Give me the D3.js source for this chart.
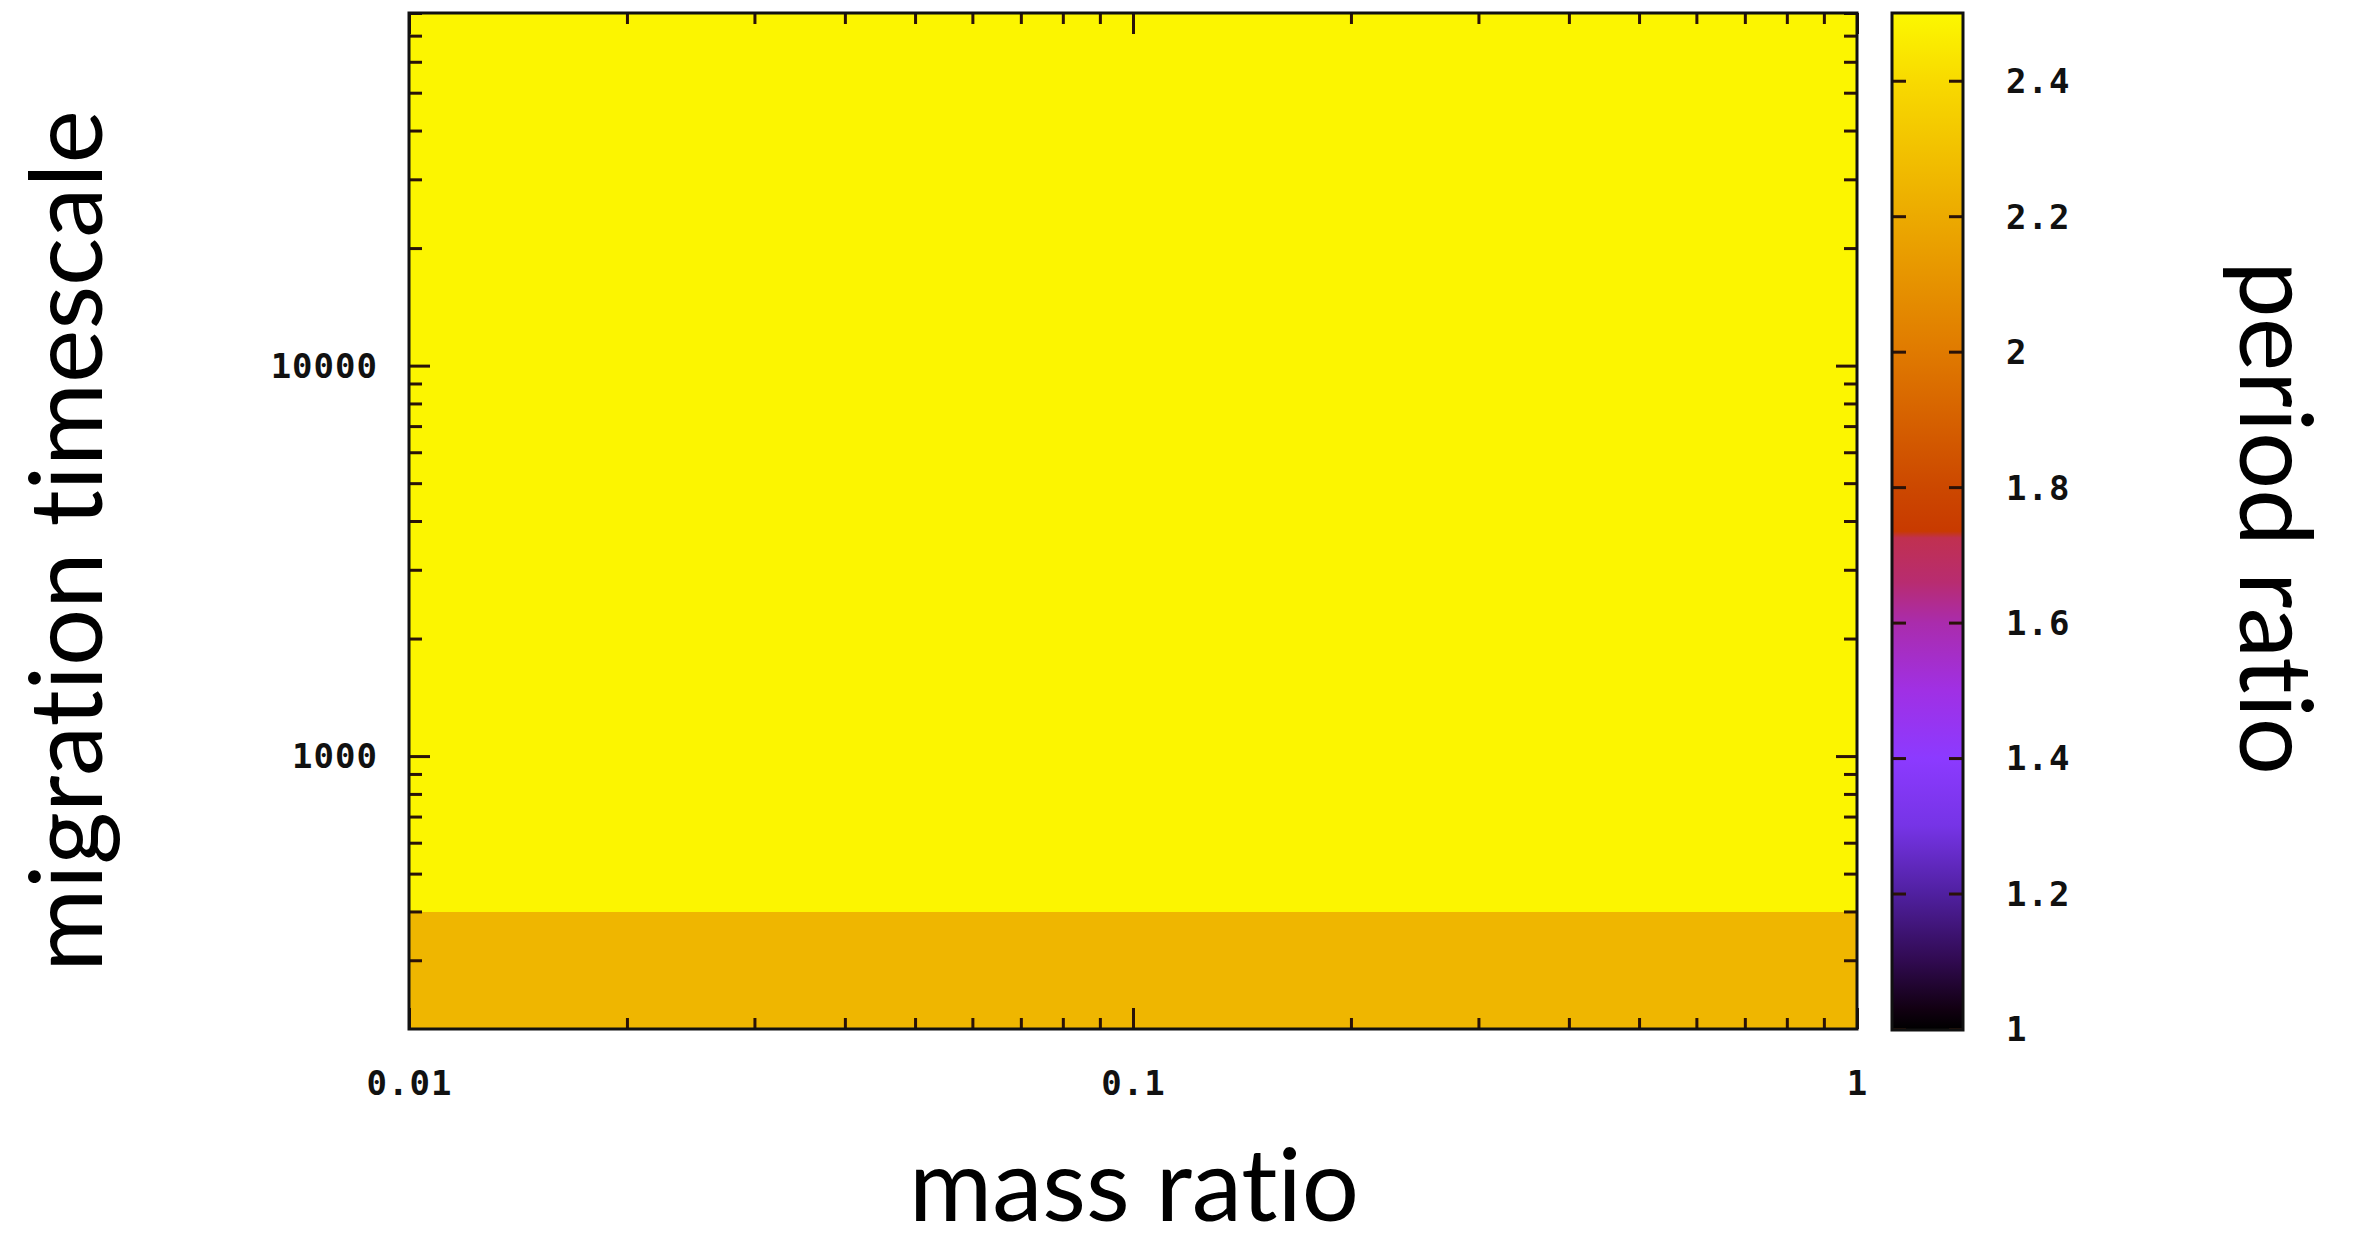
<!DOCTYPE html>
<html><head><meta charset="utf-8">
<script src="https://cdn.jsdelivr.net/npm/d3@7"></script>
<style>
html,body{margin:0;padding:0;background:#fff;}
svg{display:block;}
.tick text{font-family:"DejaVu Sans Mono",monospace;font-weight:bold;font-size:34px;fill:#111;letter-spacing:1px;}
.title{font-family:Lato,"Open Sans",sans-serif;font-size:101px;fill:#000;font-variant-ligatures:none;font-feature-settings:"liga" 0;}
</style></head>
<body>
<svg id="chart" width="2356" height="1249"></svg>
<script>
// ---- data ----
const massRatioEdges = [0.01, 0.1, 1];          // x cell edges
const timescaleEdges = [200, 400, 80000];       // y cell edges
const periodRatio = [                           // rows: bottom -> top
  [2.25, 2.25],
  [2.49, 2.49]
];
const xMajorTicks = [0.01, 0.1, 1];
const xTickLabels = ["0.01", "0.1", "1"];
const yMajorTicks = [1000, 10000];
const yTickLabels = ["1000", "10000"];
const cbTicks = [1, 1.2, 1.4, 1.6, 1.8, 2, 2.2, 2.4];
const cbTickLabels = ["1", "1.2", "1.4", "1.6", "1.8", "2", "2.2", "2.4"];
const paletteValues = [1.0, 1.03, 1.1, 1.2, 1.3, 1.4, 1.5, 1.6, 1.66, 1.725, 1.735, 1.8, 2.0, 2.2, 2.4, 2.5];
const paletteColors = ["#000000", "#120012", "#300a50", "#5020a0", "#7634e6", "#8c3aff", "#a030e4", "#aa2cac", "#b82c70", "#c03050", "#c83a00", "#cc4800", "#e07a00", "#ecaa00", "#f8da00", "#fcf800"];

// ---- layout ----
const svg = d3.select("#chart");
const L = 409, R = 1857, T = 13, B = 1029;
const CBL = 1892, CBR = 1963;

const x = d3.scaleLog().domain([0.01, 1]).range([L, R]);
const y = d3.scaleLog().domain([200, 80000]).range([B, T]);
const color = d3.scaleLinear().domain(paletteValues).range(paletteColors);
const cb = d3.scaleLinear().domain([1, 2.5]).range([B, T]);

svg.append("rect").attr("width", 2356).attr("height", 1249).attr("fill", "#fff");

// heatmap cells
const cells = [];
periodRatio.forEach((row, i) => row.forEach((v, j) => cells.push({
  x0: massRatioEdges[j], x1: massRatioEdges[j + 1],
  y0: timescaleEdges[i], y1: timescaleEdges[i + 1], v
})));
svg.append("g").attr("shape-rendering", "crispEdges")
  .selectAll("rect").data(cells).join("rect")
  .attr("x", d => x(d.x0)).attr("width", d => x(d.x1) - x(d.x0) + 0.5)
  .attr("y", d => y(d.y1)).attr("height", d => y(d.y0) - y(d.y1) + 0.5)
  .attr("fill", d => color(d.v));

// minor ticks
const xMinor = [];
[0.01, 0.1].forEach(b => { for (let k = 2; k <= 9; k++) xMinor.push(b * k); });
const yMinor = [];
[100, 1000, 10000].forEach(b => { for (let k = 2; k <= 9; k++) { const v = b * k; if (v > 200 && v <= 80000) yMinor.push(v); } });

const tickColor = "#2a1208";
function styleAxis(g) {
  g.select(".domain").remove();
  g.selectAll(".tick line").attr("stroke", tickColor).attr("stroke-width", 3);
}
// bottom
svg.append("g").attr("transform", `translate(0,${B})`)
  .call(d3.axisBottom(x).tickValues(xMinor).tickSize(-11).tickFormat(""))
  .call(styleAxis);
svg.append("g").attr("transform", `translate(0,${B})`)
  .call(d3.axisBottom(x).tickValues(xMajorTicks).tickSize(-21).tickFormat((d, i) => xTickLabels[i]))
  .call(styleAxis)
  .call(g => g.selectAll(".tick text").attr("y", 54).attr("dy", "0.35em"));
// top
svg.append("g").attr("transform", `translate(0,${T})`)
  .call(d3.axisTop(x).tickValues(xMinor).tickSize(-11).tickFormat("")).call(styleAxis);
svg.append("g").attr("transform", `translate(0,${T})`)
  .call(d3.axisTop(x).tickValues(xMajorTicks).tickSize(-21).tickFormat("")).call(styleAxis);
// left
svg.append("g").attr("transform", `translate(${L},0)`)
  .call(d3.axisLeft(y).tickValues(yMinor).tickSize(-13).tickFormat("")).call(styleAxis);
svg.append("g").attr("transform", `translate(${L},0)`)
  .call(d3.axisLeft(y).tickValues(yMajorTicks).tickSize(-21).tickFormat((d, i) => yTickLabels[i]))
  .call(styleAxis)
  .call(g => g.selectAll(".tick text").attr("x", -31).attr("dy", "0.35em"));
// right
svg.append("g").attr("transform", `translate(${R},0)`)
  .call(d3.axisRight(y).tickValues(yMinor).tickSize(-13).tickFormat("")).call(styleAxis);
svg.append("g").attr("transform", `translate(${R},0)`)
  .call(d3.axisRight(y).tickValues(yMajorTicks).tickSize(-21).tickFormat("")).call(styleAxis);

// plot border
svg.append("rect").attr("x", L).attr("y", T).attr("width", R - L).attr("height", B - T)
  .attr("fill", "none").attr("stroke", "#111").attr("stroke-width", 3);

// colorbar
const defs = svg.append("defs");
const grad = defs.append("linearGradient").attr("id", "cbgrad")
  .attr("x1", 0).attr("y1", 1).attr("x2", 0).attr("y2", 0);
paletteValues.forEach((v, i) => grad.append("stop")
  .attr("offset", (v - 1) / 1.5).attr("stop-color", paletteColors[i]));
svg.append("rect").attr("x", CBL).attr("y", cb(2.5)).attr("width", CBR - CBL)
  .attr("height", cb(1) - cb(2.5)).attr("fill", "url(#cbgrad)");
svg.append("g").attr("transform", `translate(${CBL},0)`)
  .call(d3.axisLeft(cb).tickValues(cbTicks).tickSize(-14).tickFormat("")).call(styleAxis);
svg.append("g").attr("transform", `translate(${CBR},0)`)
  .call(d3.axisRight(cb).tickValues(cbTicks).tickSize(-14).tickFormat((d, i) => cbTickLabels[i]))
  .call(styleAxis)
  .call(g => g.selectAll(".tick text").attr("x", 43).attr("dy", "0.35em").attr("text-anchor", "start"));
svg.append("rect").attr("x", CBL).attr("y", T).attr("width", CBR - CBL).attr("height", B - T + 1)
  .attr("fill", "none").attr("stroke", "#111").attr("stroke-width", 3);

// titles
svg.append("text").attr("class", "title").attr("x", 1134).attr("y", 1221)
  .attr("text-anchor", "middle").text("mass ratio");
svg.append("text").attr("class", "title").attr("text-anchor", "middle")
  .attr("transform", "translate(102,541) rotate(-90)").text("migration timescale");
svg.append("text").attr("class", "title").attr("text-anchor", "middle")
  .attr("transform", "translate(2240,518) rotate(90)").text("period ratio");
</script>
</body></html>
